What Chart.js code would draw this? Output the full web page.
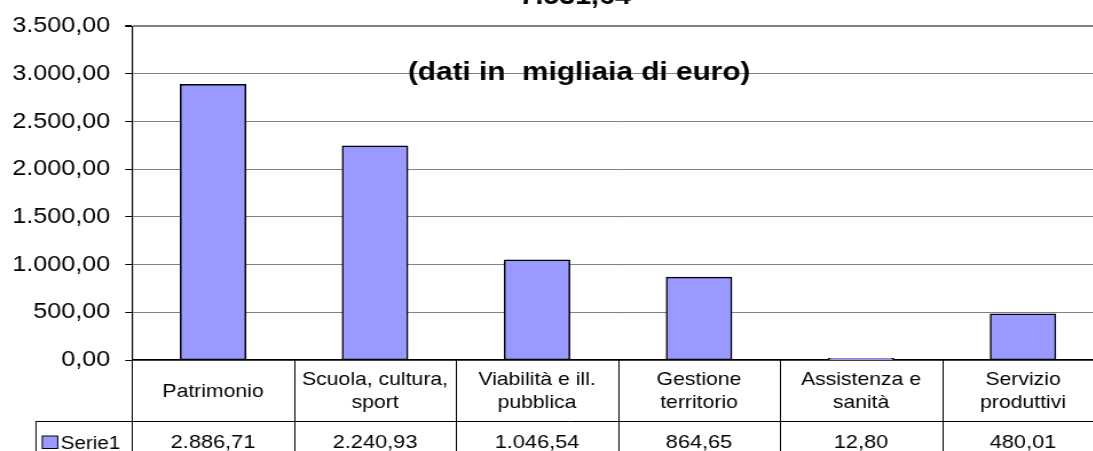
<!DOCTYPE html>
<html>
<head>
<meta charset="utf-8">
<script src="https://cdn.jsdelivr.net/npm/chart.js@4/dist/chart.umd.min.js"></script>
<style>
  html, body { margin: 0; padding: 0; background: #fff; }
  /* the source picture is stretched horizontally, so the canvas is drawn narrow and widened */
  #wrap { width: 1093px; height: 451px; overflow: hidden; }
  #chart { display: block; }
</style>
</head>
<body>
<div id="wrap"><canvas id="chart" width="964" height="451" style="width:1103.8px;height:451px"></canvas></div>
<script>
// Chart data
const categories = [
  ["Patrimonio"],
  ["Scuola, cultura,", "sport"],
  ["Viabilità e ill.", "pubblica"],
  ["Gestione", "territorio"],
  ["Assistenza e", "sanità"],
  ["Servizio", "produttivi"],
];
const serie1 = [2886.71, 2240.93, 1046.54, 864.65, 12.80, 480.01];
const seriesName = "Serie1";
const yTicks = [0, 500, 1000, 1500, 2000, 2500, 3000, 3500];
const totalLabel = "7.531,64";
const unitLabel = "(dati in  migliaia di euro)";

const FONT = '"Liberation Sans", Arial, sans-serif';
const BAR_COLOR = "#9999FF";

// Italian number format: 2.886,71
function fmt(v) {
  const [i, d] = v.toFixed(2).split(".");
  return i.replace(/\B(?=(\d{3})+(?!\d))/g, ".") + "," + d;
}

// Titles and the data table under the plot (Excel style)
const tablePlugin = {
  id: "dataTable",
  afterDraw(chart) {
    const { ctx, scales: { x } } = chart;
    const n = chart.data.labels.length;
    const cw = (x.right - x.left) / n;
    const top = x.top;
    const bottom = chart.height;
    const rowLine = 421;
    const legendLeft = 31.4;

    ctx.save();
    ctx.strokeStyle = "#000";
    ctx.lineWidth = 1;
    ctx.beginPath();
    for (let i = 0; i <= n; i++) {
      const px = Math.round(x.left + i * cw) + 0.5;
      ctx.moveTo(px, top);
      ctx.lineTo(px, bottom);
    }
    ctx.moveTo(legendLeft, rowLine + 0.5);
    ctx.lineTo(x.right, rowLine + 0.5);
    ctx.moveTo(legendLeft, rowLine);
    ctx.lineTo(legendLeft, bottom);
    ctx.stroke();

    // category labels, centred in the header row
    ctx.fillStyle = "#000";
    ctx.textAlign = "center";
    ctx.textBaseline = "middle";
    ctx.font = "18.5px " + FONT;
    const lineH = 23;
    const midY = (top + rowLine) / 2 + 1;
    chart.data.labels.forEach((lab, i) => {
      const cx = x.getPixelForValue(i);
      const lines = Array.isArray(lab) ? lab : [lab];
      lines.forEach((t, k) => {
        ctx.fillText(t, cx, midY + (k - (lines.length - 1) / 2) * lineH);
      });
    });

    // values row
    ctx.textBaseline = "alphabetic";
    ctx.font = "19px " + FONT;
    chart.data.datasets[0].data.forEach((v, i) => {
      ctx.fillText(fmt(v), x.getPixelForValue(i), 448);
    });

    // legend key in the first column
    ctx.fillStyle = BAR_COLOR;
    ctx.fillRect(36.9, 436, 13.5, 12.5);
    ctx.strokeRect(36.9, 436, 13.5, 12.5);
    ctx.fillStyle = "#000";
    ctx.textAlign = "left";
    ctx.font = "18px " + FONT;
    ctx.fillText(chart.data.datasets[0].label, 53, 449);

    // total (cut by the top edge) and unit note
    ctx.textAlign = "center";
    ctx.font = "bold 25px " + FONT;
    ctx.fillText(totalLabel, 502.2, 4);
    ctx.font = "bold 26px " + FONT;
    ctx.fillText(unitLabel, 505.7, 80);
    ctx.restore();
  },
};

new Chart(document.getElementById("chart"), {
  type: "bar",
  data: {
    labels: categories,
    datasets: [{
      label: seriesName,
      data: serie1,
      backgroundColor: BAR_COLOR,
      borderColor: "#000",
      borderWidth: 1.5,
      borderSkipped: false,
      inflateAmount: 0.75, // border centred on the bar edge, like Excel
      categoryPercentage: 0.8,
      barPercentage: 0.5,
    }],
  },
  options: {
    responsive: false,
    animation: false,
    layout: { padding: { left: 0, right: 0, top: 25, bottom: 0 } },
    plugins: {
      legend: { display: false },
      tooltip: { enabled: false },
    },
    scales: {
      x: {
        ticks: { display: false },
        grid: { display: false },
        border: { color: "#000", width: 1.5 },
        afterFit(scale) { scale.height = 91; },
      },
      y: {
        min: 0,
        max: 3500,
        afterBuildTicks(scale) { scale.ticks = yTicks.map(v => ({ value: v })); },
        ticks: {
          color: "#000",
          font: { family: FONT, size: 22 },
          padding: 13,
          callback: v => fmt(v),
        },
        grid: {
          color: "#808080",
          lineWidth: c => (c.tick && c.tick.value === 3500 ? 2 : 1),
          tickColor: "#000",
          tickLength: 6,
        },
        border: { color: "#000", width: 1.2 },
        afterFit(scale) { scale.width = 115.3; },
      },
    },
  },
  plugins: [tablePlugin],
});
</script>
</body>
</html>
